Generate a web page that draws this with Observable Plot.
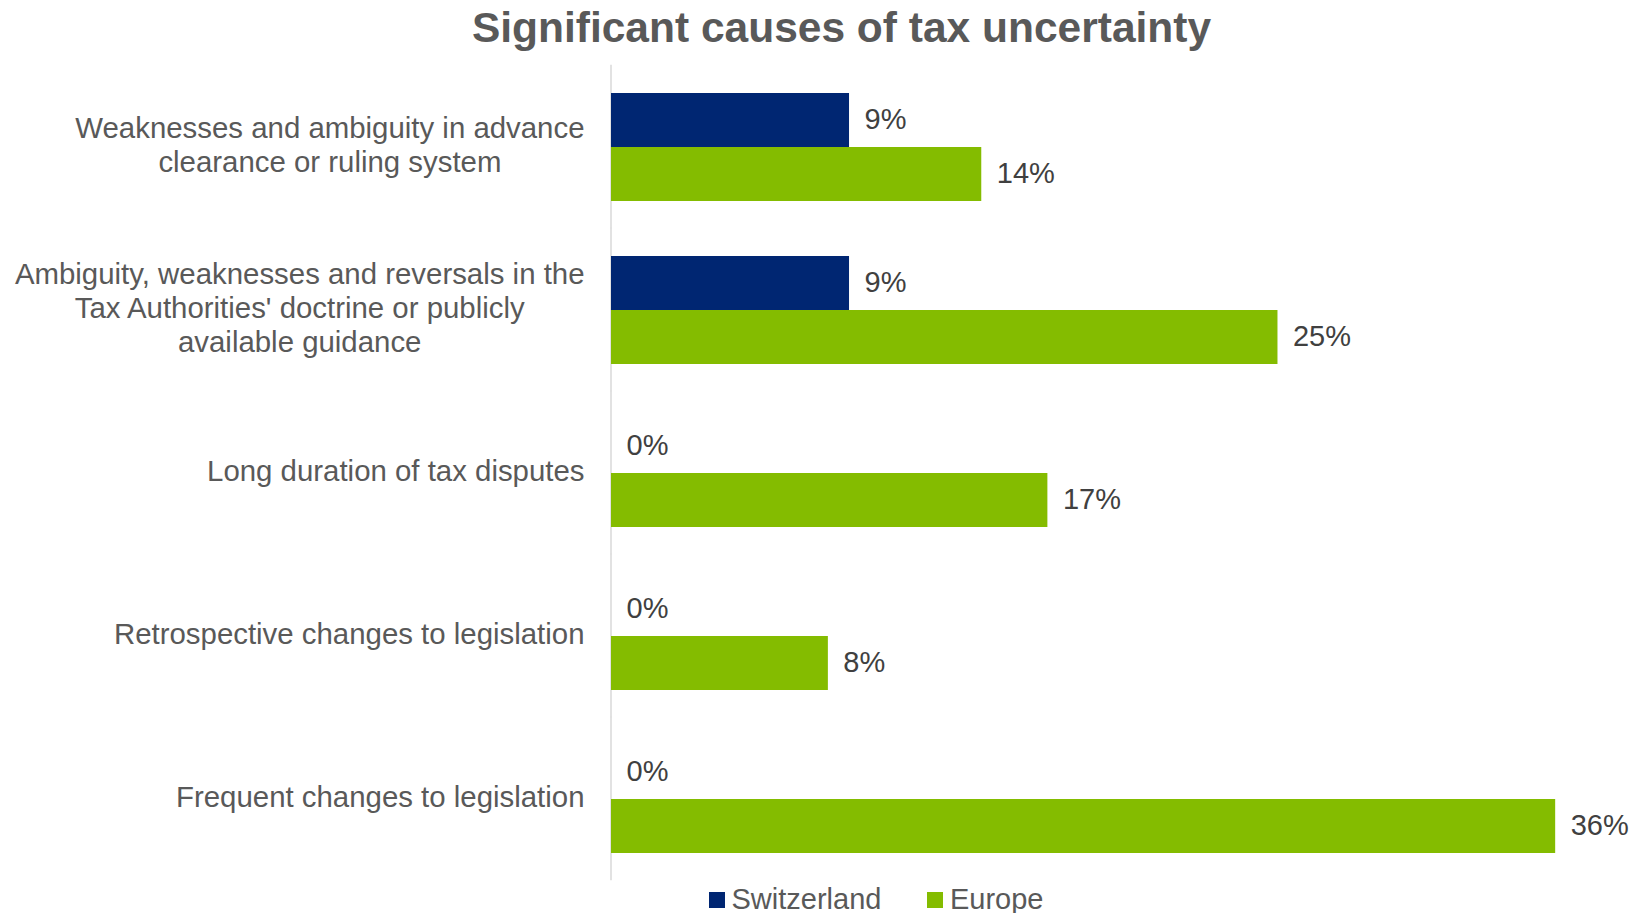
<!DOCTYPE html>
<html>
<head>
<meta charset="utf-8">
<script src="https://cdn.jsdelivr.net/npm/d3@7"></script>
<script src="https://cdn.jsdelivr.net/npm/@observablehq/plot@0.6"></script>
<style>
  html, body { margin: 0; padding: 0; background: #fff; overflow: hidden; }
  body { width: 1644px; height: 913px; font-family: 'Liberation Sans', Arial, sans-serif; }
  #title { height: 60px; line-height: 55px; font-size: 42.5px; font-weight: bold; color: #595959; text-align: center; padding-left: 39px; box-sizing: border-box; }
  #chart svg { display: block; }
  #legend { height: 35px; display: flex; align-items: center; padding-left: 709px; font-size: 29px; line-height: 1; color: #595959; }
  .item { display: flex; align-items: center; }
  .sw { width: 16px; height: 16px; margin-right: 6.5px; }
</style>
</head>
<body>
<div id="title">Significant causes of tax uncertainty</div>
<div id="chart"></div>
<div id="legend"></div>
<script>
const categories = [
  "Weaknesses and ambiguity in advance clearance or ruling system",
  "Ambiguity, weaknesses and reversals in the Tax Authorities' doctrine or publicly available guidance",
  "Long duration of tax disputes",
  "Retrospective changes to legislation",
  "Frequent changes to legislation"
];
const categoryLines = [
  ["Weaknesses and ambiguity in advance", "clearance or ruling system"],
  ["Ambiguity, weaknesses and reversals in the", "Tax Authorities' doctrine or publicly", "available guidance"],
  ["Long duration of tax disputes"],
  ["Retrospective changes to legislation"],
  ["Frequent changes to legislation"]
];
const series = ["Switzerland", "Europe"];
const switzerland = [9, 9, 0, 0, 0];
const europe = [14, 25.2, 16.5, 8.2, 35.7];
const colors = ["#002672", "#84BC00"];

const rows = categories.flatMap((c, i) => [
  {category: c, series: "Switzerland", value: switzerland[i]},
  {category: c, series: "Europe", value: europe[i]}
]);

const FONT = "'Liberation Sans', Arial, sans-serif";
const LABEL_SIZE = 29.4;
const ctx = document.createElement("canvas").getContext("2d");
ctx.font = LABEL_SIZE + "px " + FONT;
const blockWidths = categoryLines.map(lines => Math.max(...lines.map(l => ctx.measureText(l).width)));

const labelMarks = categories.map((c, i) => Plot.text([c], {
  fy: d => d,
  text: () => categoryLines[i].join("\n"),
  frameAnchor: "left",
  textAnchor: "middle",
  dx: -27 - blockWidths[i] / 2,
  dy: -2.5,
  fontSize: LABEL_SIZE,
  lineHeight: 1.157,
  fill: "#595959"
}));

const chart = Plot.plot({
  width: 1644,
  height: 822,
  marginLeft: 611,
  marginRight: 28,
  marginTop: 4,
  marginBottom: 2,
  style: {fontFamily: FONT, background: "#fff"},
  x: {domain: [0, 38], axis: null},
  y: {domain: series, padding: 0, axis: null},
  fy: {domain: categories, paddingInner: 1/3, paddingOuter: 1/6, axis: null, label: null},
  color: {domain: series, range: colors},
  marks: [
    Plot.ruleX([0], {stroke: "#D9D9D9", strokeWidth: 1.5, dx: -0.5, insetTop: -27.2, insetBottom: -27.2}),
    Plot.barX(rows, {fy: "category", y: "series", x: "value", fill: "series"}),
    Plot.text(rows, {fy: "category", y: "series", x: "value", text: d => Math.round(d.value) + "%", dx: 15, dy: -1, textAnchor: "start", fontSize: 29, fill: "#404040"}),
    ...labelMarks
  ]
});
document.getElementById("chart").appendChild(chart);

const legend = document.getElementById("legend");
series.forEach((s, i) => {
  const item = document.createElement("div");
  item.className = "item";
  if (i > 0) item.style.marginLeft = "46px";
  const sw = document.createElement("div");
  sw.className = "sw";
  sw.style.background = colors[i];
  const t = document.createElement("span");
  t.textContent = s;
  item.appendChild(sw);
  item.appendChild(t);
  legend.appendChild(item);
});
</script>
</body>
</html>
